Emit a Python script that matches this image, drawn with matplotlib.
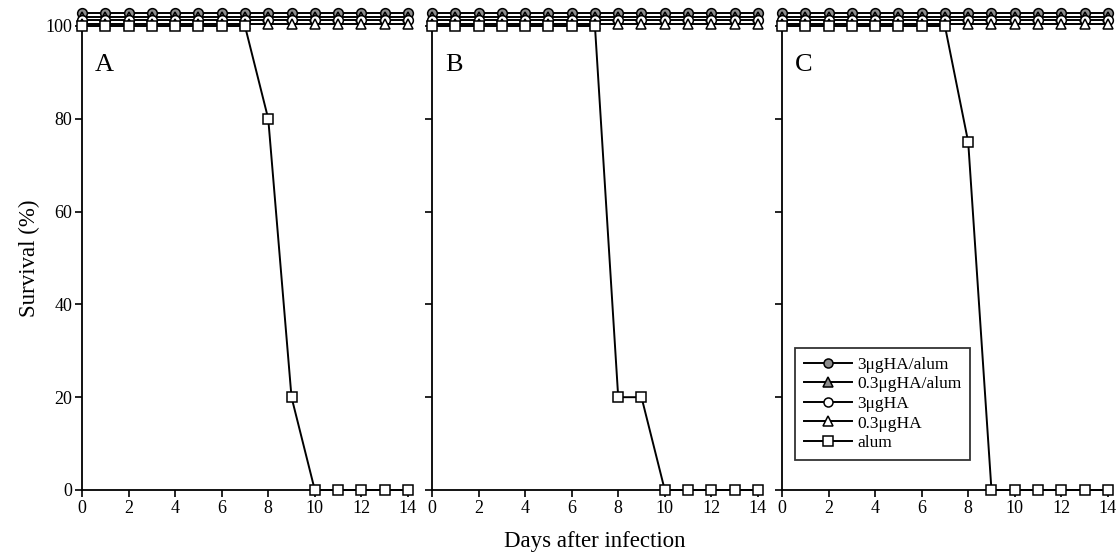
import numpy as np
import matplotlib
matplotlib.use("Agg")
import matplotlib.pyplot as plt
from matplotlib.lines import Line2D

plt.rcParams['font.family'] = ['Liberation Serif', 'DejaVu Serif']

days = [0, 1, 2, 3, 4, 5, 6, 7, 8, 9, 10, 11, 12, 13, 14]
panels = ["A", "B", "C"]

# vaccinated groups: everyone survived in all three panels
ha3_alum = [100, 100, 100, 100, 100, 100, 100, 100, 100, 100, 100, 100, 100, 100, 100]
ha03_alum = [100, 100, 100, 100, 100, 100, 100, 100, 100, 100, 100, 100, 100, 100, 100]
ha3 = [100, 100, 100, 100, 100, 100, 100, 100, 100, 100, 100, 100, 100, 100, 100]
ha03 = [100, 100, 100, 100, 100, 100, 100, 100, 100, 100, 100, 100, 100, 100, 100]

# alum only control, one per panel
alum = {
    "A": [100, 100, 100, 100, 100, 100, 100, 100, 80, 20, 0, 0, 0, 0, 0],
    "B": [100, 100, 100, 100, 100, 100, 100, 100, 20, 20, 0, 0, 0, 0, 0],
    "C": [100, 100, 100, 100, 100, 100, 100, 100, 75, 0, 0, 0, 0, 0, 0],
}

labels = ["3\u03bcgHA/alum", "0.3\u03bcgHA/alum", "3\u03bcgHA", "0.3\u03bcgHA", "alum"]
gray = "#8c8c8c"
# marker style per group and a small vertical shift so the 100% lines don't hide each other
styles = [
    dict(marker="o", mfc=gray, ms=7, shift=2.8),
    dict(marker="^", mfc=gray, ms=7, shift=2.0),
    dict(marker="o", mfc="white", ms=7, shift=1.3),
    dict(marker="^", mfc="white", ms=7, shift=0.5),
    dict(marker="s", mfc="white", ms=7.5, shift=0.0),
]

fig = plt.figure(figsize=(11.16, 5.56), dpi=100)
lefts = [0.0735, 0.3871, 0.7007]
width = 0.292
bottom = 1 - 490 / 556
height = 464 / 556

for i, p in enumerate(panels):
    ax = fig.add_axes([lefts[i], bottom, width, height])
    series = [ha3_alum, ha03_alum, ha3, ha03, alum[p]]
    handles = []
    draw_order = [3, 2, 1, 0, 4]
    for k in draw_order:
        st = styles[k]
        y = np.array(series[k]) + st["shift"]
        ax.plot(days, y, color="black", lw=1.4, marker=st["marker"], ms=st["ms"],
                mfc=st["mfc"], mec="black", mew=1.1, clip_on=False, zorder=3 + k)
    for k in range(5):
        st = styles[k]
        handles.append(Line2D([], [], color="black", lw=1.4, marker=st["marker"], ms=6.5,
                              mfc=st["mfc"], mec="black", mew=1.1))

    ax.set_xlim(0, 14)
    ax.set_ylim(0, 100)
    ax.spines["top"].set_visible(False)
    ax.spines["right"].set_visible(False)
    for s in ["left", "bottom"]:
        ax.spines[s].set_linewidth(1.3)
    ax.set_xticks([0, 2, 4, 6, 8, 10, 12, 14])
    ax.set_yticks([0, 20, 40, 60, 80, 100])
    ax.tick_params(direction="out", length=5, width=1.2, labelsize=13, pad=2)
    if i > 0:
        ax.tick_params(axis="y", labelleft=False)
    ax.text(0.04, 0.915, p, transform=ax.transAxes, fontsize=19, va="center", ha="left")

    if i == 0:
        ax.set_ylabel("Survival (%)", fontsize=16.5, labelpad=4)
    if i == 1:
        ax.set_xlabel("Days after infection", fontsize=16.5, labelpad=10)
    if i == 2:
        leg = ax.legend(handles, labels, loc="lower left", bbox_to_anchor=(0.04, 0.065),
                        fontsize=12.5, frameon=True, fancybox=False, edgecolor="black",
                        handlelength=2.8, handletextpad=0.3, borderpad=0.5,
                        labelspacing=0.2, borderaxespad=0)
        leg.get_frame().set_linewidth(1.3)

fig.savefig("out.png", dpi=100)
